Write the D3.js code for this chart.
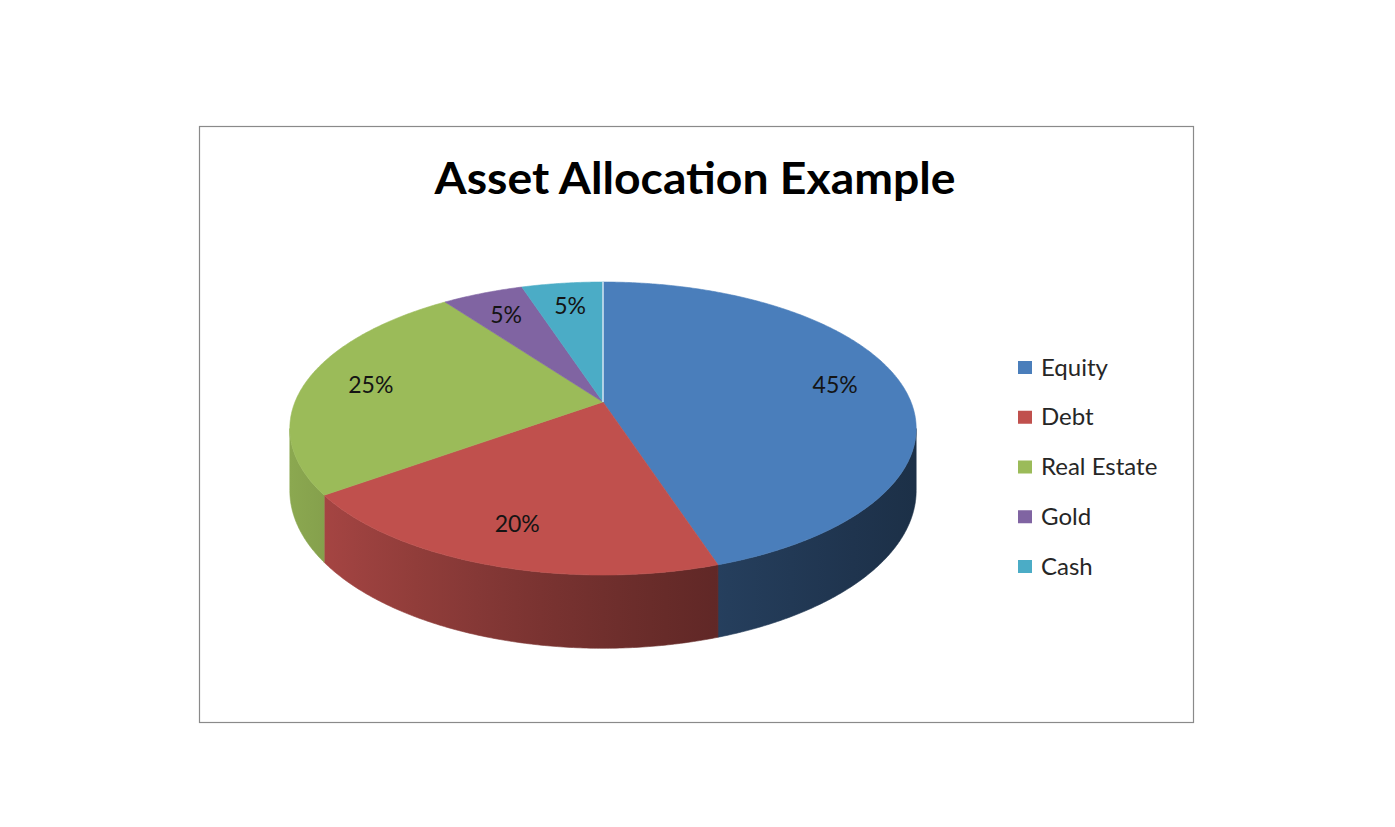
<!DOCTYPE html>
<html>
<head>
<meta charset="utf-8">
<script src="https://cdn.jsdelivr.net/npm/d3@7"></script>
<style>
  body { margin: 0; background: #fff; }
  text { font-family: Lato, "Open Sans", sans-serif; }
</style>
</head>
<body>
<div id="chart"></div>
<script>
const categories = ["Equity", "Debt", "Real Estate", "Gold", "Cash"];
const shares = [45, 20, 25, 5, 5];
const pctLabels = ["45%", "20%", "25%", "5%", "5%"];
const colors = ["#4A7EBB", "#C0504D", "#9BBB59", "#8064A2", "#4BACC6"];

const W = 1395, H = 827;

// perspective pie geometry
const CX = 603, CY = 402;     // projected centre of top face
const A = 308, B = 141.7;     // horizontal / vertical radius factors
const K = 0.181;              // perspective strength
const DEPTH = 60;             // thickness
const LABEL_R = 0.78;

function proj(theta, f, h) {
    const c = Math.cos(theta), s = Math.sin(theta);
    const w = 1 + K * f * c;
    return [CX + A * f * s / w, CY - B * f * c / w + h / w];
}

const svg = d3.select("#chart").append("svg")
    .attr("width", W)
    .attr("height", H);

// frame
svg.append("rect")
    .attr("x", 199.5).attr("y", 126.5)
    .attr("width", 994).attr("height", 596)
    .attr("fill", "#fff")
    .attr("stroke", "#8a8a8a")
    .attr("stroke-width", 1.2);

// title
svg.append("text")
    .attr("x", 695).attr("y", 194)
    .attr("text-anchor", "middle")
    .attr("font-size", 44)
    .attr("font-weight", "bold")
    .attr("fill", "#000")
    .attr("textLength", 521)
    .attr("lengthAdjust", "spacingAndGlyphs")
    .text("Asset Allocation Example");

const arcs = d3.pie().sort(null).value(d => d)(shares);

// side gradients, darker to the right
const defs = svg.append("defs");
arcs.forEach((a, i) => {
    const g = defs.append("linearGradient")
        .attr("id", "side" + i)
        .attr("gradientUnits", "userSpaceOnUse")
        .attr("x1", CX - 313).attr("x2", CX + 313)
        .attr("y1", 0).attr("y2", 0);
    d3.range(0, 1.01, 0.1).forEach(t => {
        g.append("stop")
            .attr("offset", t)
            .attr("stop-color", d3.color(colors[i]).darker(0.3 + 2.4 * t).formatHex());
    });
});

const tL = Math.acos(-K), tR = 2 * Math.PI - Math.acos(-K);
const STEP = Math.PI / 360;

function rim(a0, a1, h) {
    const n = Math.max(2, Math.ceil((a1 - a0) / STEP));
    return d3.range(n + 1).map(j => proj(a0 + (a1 - a0) * j / n, 1, h));
}

const line = d3.line();

// sides
const sides = svg.append("g");
arcs.forEach((a, i) => {
    const s0 = Math.max(a.startAngle, tL), s1 = Math.min(a.endAngle, tR);
    if (s1 <= s0) return;
    const pts = rim(s0, s1, 0).concat(rim(s0, s1, DEPTH).reverse());
    sides.append("path")
        .attr("d", line(pts) + "Z")
        .attr("fill", "url(#side" + i + ")")
        .attr("stroke", "url(#side" + i + ")")
        .attr("stroke-width", 0.6);
});

// top faces
const tops = svg.append("g");
arcs.forEach((a, i) => {
    const pts = [proj(0, 0, 0)].concat(rim(a.startAngle, a.endAngle, 0));
    tops.append("path")
        .attr("d", line(pts) + "Z")
        .attr("fill", colors[i])
        .attr("stroke", colors[i])
        .attr("stroke-width", 0.6);
});

// light seam at 12 o'clock
const c0 = proj(0, 0, 0), c1 = proj(0, 1, 0);
svg.append("line")
    .attr("x1", c0[0]).attr("y1", c0[1])
    .attr("x2", c1[0]).attr("y2", c1[1])
    .attr("stroke", "#d4e3f2")
    .attr("stroke-width", 1.5);

// data labels
arcs.forEach((a, i) => {
    const mid = (a.startAngle + a.endAngle) / 2;
    const p = proj(mid, LABEL_R, 0);
    svg.append("text")
        .attr("x", p[0]).attr("y", p[1])
        .attr("dy", "0.36em")
        .attr("text-anchor", "middle")
        .attr("font-size", 23)
        .attr("fill", "#141414")
        .text(pctLabels[i]);
});

// legend
const ly = d3.scalePoint().domain(categories).range([367, 566]);
const legend = svg.append("g");
categories.forEach((c, i) => {
    legend.append("rect")
        .attr("x", 1018).attr("y", ly(c) - 6)
        .attr("width", 14).attr("height", 13)
        .attr("fill", colors[i]);
    legend.append("text")
        .attr("x", 1041).attr("y", ly(c))
        .attr("dy", "0.36em")
        .attr("font-size", 24)
        .attr("fill", "#262626")
        .text(c);
});
</script>
</body>
</html>
